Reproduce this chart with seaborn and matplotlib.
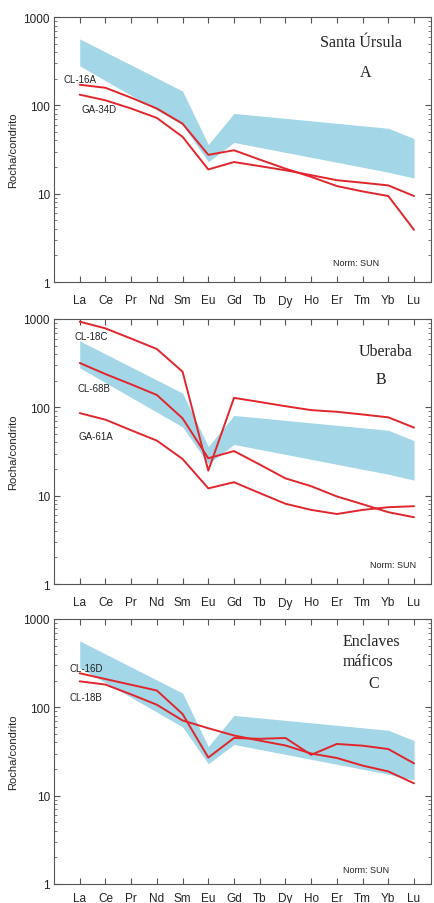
import matplotlib
matplotlib.use("Agg")
import matplotlib.pyplot as plt
import seaborn as sns
import numpy as np
import pandas as pd
from matplotlib.ticker import LogLocator, NullFormatter

sns.set_theme(style="white")
plt.rcParams['font.family'] = ['Liberation Sans', 'DejaVu Sans']

elements = ["La", "Ce", "Pr", "Nd", "Sm", "Eu", "Gd", "Tb", "Dy", "Ho", "Er", "Tm", "Yb", "Lu"]

# reference band (granitoid field) vertices
band_elements = ["La", "Sm", "Eu", "Gd", "Yb", "Lu"]
band_upper = [565, 145, 36, 81, 55, 42]
band_lower = [280, 60, 23, 38, 17.5, 15]

# Panel A - Santa Úrsula
cl16a = [171, 158, 122, 92, 62, 27.5, 31, 24.3, 19.2, 15.5, 12.2, 10.6, 9.4, 3.9]
ga34d = [132, 114, 92, 72, 44, 18.8, 22.8, 20.5, 18.4, 16.2, 14.2, 13.3, 12.4, 9.4]

# Panel B - Uberaba
cl18c = [933, 783, 600, 457, 253, 19.2, 128, 115, 103, 93, 89, 83, 77, 59]
cl68b = [318, 238, 182, 138, 75, 26.5, 32, 22.5, 15.7, 12.8, 9.8, 8.0, 6.5, 5.7]
ga61a = [86, 72.5, 55, 42, 26, 12.1, 14.2, 10.7, 8.1, 6.9, 6.2, 6.9, 7.4, 7.6]

# Panel C - Enclaves máficos
cl16d = [243, 209, 180, 155, 84, 27, 45, 44, 45, 29, 38.5, 36.8, 33.7, 23.2]
cl18b = [197, 181, 140, 107, 71, 58, 48, 42, 37, 30, 26.7, 21.9, 18.8, 13.8]

panels = [
    {"title": ["Santa Úrsula", "A"], "series": [("CL-16A", cl16a), ("GA-34D", ga34d)]},
    {"title": ["Uberaba", "B"], "series": [("CL-18C", cl18c), ("CL-68B", cl68b), ("GA-61A", ga61a)]},
    {"title": ["Enclaves", "máficos", "C"], "series": [("CL-16D", cl16d), ("CL-18B", cl18b)]},
]

W, H = 435, 904
fig = plt.figure(figsize=(W / 100, H / 100), dpi=100)
tops = [18, 320, 620]
xpads = [9, 9, 6]
ax_h = 265
left_px, right_px = 54, 431

label_pos = [
    [(0.024, 0.766), (0.074, 0.653)],
    [(0.055, 0.936), (0.063, 0.740), (0.066, 0.558)],
    [(0.042, 0.815), (0.042, 0.706)],
]
title_pos = [
    [(0.815, 0.906), (0.826, 0.792)],
    [(0.879, 0.879), (0.868, 0.774)],
    [(0.842, 0.917), (0.834, 0.842), (0.847, 0.758)],
]
norm_pos = [(0.802, 0.075), (0.900, 0.072), (0.828, 0.053)]

band_x = [elements.index(e) for e in band_elements]
red = "#e0262c"
band_col = "#a3d6e6"
text_col = "#222222"

for i, p in enumerate(panels):
    top = tops[i]
    ax = fig.add_axes([left_px / W, 1 - (top + ax_h) / H, (right_px - left_px) / W, ax_h / H])
    ax.set_yscale("log")
    ax.fill_between(band_x, band_lower, band_upper, color=band_col, lw=0, zorder=1)
    for name, vals in p["series"]:
        df = pd.DataFrame({"x": np.arange(len(elements)), "y": vals})
        sns.lineplot(data=df, x="x", y="y", ax=ax, color=red, lw=1.4, zorder=3)
    ax.set_xlim(-1.0, 13.66)
    ax.set_ylim(1, 1000)
    ax.set_xticks(np.arange(len(elements)))
    ax.set_xticklabels(elements)
    ax.set_yticks([1, 10, 100, 1000])
    ax.set_yticklabels(["1", "10", "100", "1000"])
    ax.yaxis.set_minor_locator(LogLocator(base=10, subs=np.arange(2, 10)))
    ax.yaxis.set_minor_formatter(NullFormatter())
    ax.tick_params(axis="both", which="major", direction="in", length=4.5, width=0.8,
                   top=True, right=True, bottom=True, left=True, labelsize=8.5, colors="#555555",
                   labelcolor=text_col)
    ax.tick_params(axis="x", pad=xpads[i])
    ax.tick_params(axis="y", pad=3)
    ax.tick_params(axis="y", which="minor", direction="in", length=2.5, width=0.6,
                   left=True, right=True, colors="#666666")
    for s in ax.spines.values():
        s.set_color("#555555")
        s.set_linewidth(0.8)
    ax.set_xlabel("")
    ax.set_ylabel("Rocha/condrito", fontsize=8, color=text_col, labelpad=4)
    for (name, _), (xf, yf) in zip(p["series"], label_pos[i]):
        ax.text(xf, yf, name, transform=ax.transAxes, fontsize=7, color=text_col,
                ha="left", va="center", zorder=4)
    for t, (xf, yf) in zip(p["title"], title_pos[i]):
        ax.text(xf, yf, t, transform=ax.transAxes, fontsize=11.5, color="#222222",
                family="Liberation Serif", ha="center", va="center", zorder=4)
    ax.text(norm_pos[i][0], norm_pos[i][1], "Norm: SUN", transform=ax.transAxes,
            fontsize=6.5, color=text_col, ha="center", va="center")

fig.savefig("out.png", dpi=100)
